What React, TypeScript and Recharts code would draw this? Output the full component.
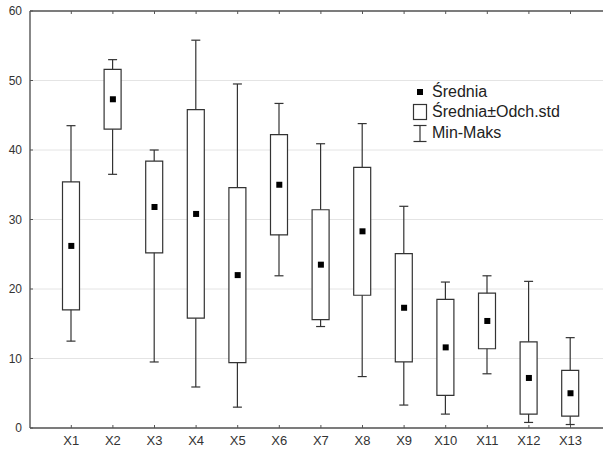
import { ComposedChart, Bar, Scatter, XAxis, YAxis, CartesianGrid, Legend } from 'recharts';

const categories = ['X1', 'X2', 'X3', 'X4', 'X5', 'X6', 'X7', 'X8', 'X9', 'X10', 'X11', 'X12', 'X13'];
const minValues = [12.5, 36.5, 9.5, 5.9, 3.0, 21.9, 14.6, 7.4, 3.3, 2.0, 7.8, 0.8, 0.5];
const maxValues = [43.5, 53.0, 40.0, 55.8, 49.5, 46.7, 40.9, 43.8, 31.9, 21.0, 21.9, 21.1, 13.0];
const meanValues = [26.2, 47.3, 31.8, 30.8, 22.0, 35.0, 23.5, 28.3, 17.3, 11.6, 15.4, 7.2, 5.0];
const stdValues = [9.2, 4.3, 6.6, 15.0, 12.6, 7.2, 7.9, 9.2, 7.8, 6.9, 4.0, 5.2, 3.3];
const yTicks = [0, 10, 20, 30, 40, 50, 60];
const legendLabels = ['Średnia', 'Średnia±Odch.std', 'Min-Maks'];

const FONT = "'Liberation Sans', Arial, sans-serif";
const INK = '#333';
const AXIS = '#555';

const data = categories.map((name, i) => ({
    name,
    range: [minValues[i], maxValues[i]],
    box: [meanValues[i] - stdValues[i], meanValues[i] + stdValues[i]],
    mean: meanValues[i],
}));

// whisker: vertical line min..max with caps
const Whisker = (props: any) => {
    const { x, y, width, height } = props;
    const cx = x + width / 2;
    const cap = 4.5;
    return (
        <g stroke={INK} strokeWidth={1.2}>
            <line x1={cx} x2={cx} y1={y} y2={y + height} />
            <line x1={cx - cap} x2={cx + cap} y1={y} y2={y} />
            <line x1={cx - cap} x2={cx + cap} y1={y + height} y2={y + height} />
        </g>
    );
};

const MeanDot = (props: any) => (
    <rect x={props.cx - 3} y={props.cy - 3} width={6} height={6} fill="#000" />
);

const BottomTick = (props: any) => {
    const { x, y, payload } = props;
    return (
        <g>
            <line x1={x} x2={x} y1={y - 8} y2={y - 11} stroke={AXIS} strokeWidth={1} />
            <text x={x} y={y} dy="0.71em" textAnchor="middle" fontSize={13} fill={INK} fontFamily={FONT}>
                {payload.value}
            </text>
        </g>
    );
};

const TopTick = (props: any) => {
    const { x, y } = props;
    return <line x1={x} x2={x} y1={y} y2={y + 3} stroke={AXIS} strokeWidth={1} />;
};

const LeftTick = (props: any) => {
    const { x, y, payload } = props;
    return (
        <g>
            <line x1={x + 8} x2={x + 11} y1={y} y2={y} stroke={AXIS} strokeWidth={1} />
            <text x={x} y={y} dy="0.355em" textAnchor="end" fontSize={12} fill={INK} fontFamily={FONT}>
                {payload.value}
            </text>
        </g>
    );
};

const LegendIcon = ({ index }: { index: number }) => (
    <svg width={20} height={20.5} style={{ flex: 'none' }}>
        {index === 0 && <rect x={5} y={7} width={6} height={6} fill="#000" />}
        {index === 1 && <rect x={1.5} y={2.5} width={13} height={15} fill="#fff" stroke={INK} strokeWidth={1.2} />}
        {index === 2 && (
            <g stroke={INK} strokeWidth={1.2}>
                <line x1={8} x2={8} y1={2.5} y2={18.5} />
                <line x1={1.5} x2={14.5} y1={2.5} y2={2.5} />
                <line x1={1.5} x2={14.5} y1={18.5} y2={18.5} />
            </g>
        )}
    </svg>
);

const LegendContent = () => (
    <div style={{ fontFamily: FONT, fontSize: 16, color: '#222' }}>
        {legendLabels.map((label, i) => (
            <div key={label} style={{ display: 'flex', alignItems: 'center', height: 20.5, whiteSpace: 'nowrap' }}>
                <LegendIcon index={i} />
                <span>{label}</span>
            </div>
        ))}
    </div>
);

export default function App() {
    return (
        <div style={{ position: 'absolute', left: 0, top: 0, width: 603, height: 449, overflow: 'hidden', background: '#fff' }}>
            {/* no page scrollbars */}
            <style>{'html, body { margin: 0; overflow: hidden; }'}</style>
            <ComposedChart width={603} height={449} data={data} margin={{ top: 10, right: 0, bottom: 0, left: 0 }} barGap={-17}>
                <CartesianGrid horizontal vertical={false} stroke="#e4e4e4" />
                <XAxis dataKey="name" height={21} padding={{ left: 20.5, right: 11.7 }}
                    axisLine={{ stroke: AXIS, strokeWidth: 1.4 }} tickLine={false} tickSize={0} tickMargin={8}
                    tick={<BottomTick />} interval={0} />
                <XAxis xAxisId="top" orientation="top" dataKey="name" height={1} padding={{ left: 20.5, right: 11.7 }}
                    axisLine={{ stroke: AXIS, strokeWidth: 1.4 }} tickLine={false} tickSize={0} tickMargin={0}
                    tick={<TopTick />} interval={0} />
                <YAxis domain={[0, 60]} ticks={yTicks} width={30} interval={0}
                    axisLine={{ stroke: AXIS, strokeWidth: 1.4 }} tickLine={false} tickSize={0} tickMargin={8}
                    tick={<LeftTick />} />
                <Bar dataKey="range" barSize={17} shape={<Whisker />} isAnimationActive={false} />
                <Bar dataKey="box" barSize={17} fill="#fff" stroke={INK} strokeWidth={1.2} isAnimationActive={false} />
                <Scatter dataKey="mean" shape={<MeanDot />} isAnimationActive={false} />
                <Legend layout="vertical" align="center" verticalAlign="middle" content={<LegendContent />}
                    wrapperStyle={{ left: 412, top: 81.5, width: 'auto' }} />
            </ComposedChart>
        </div>
    );
}
